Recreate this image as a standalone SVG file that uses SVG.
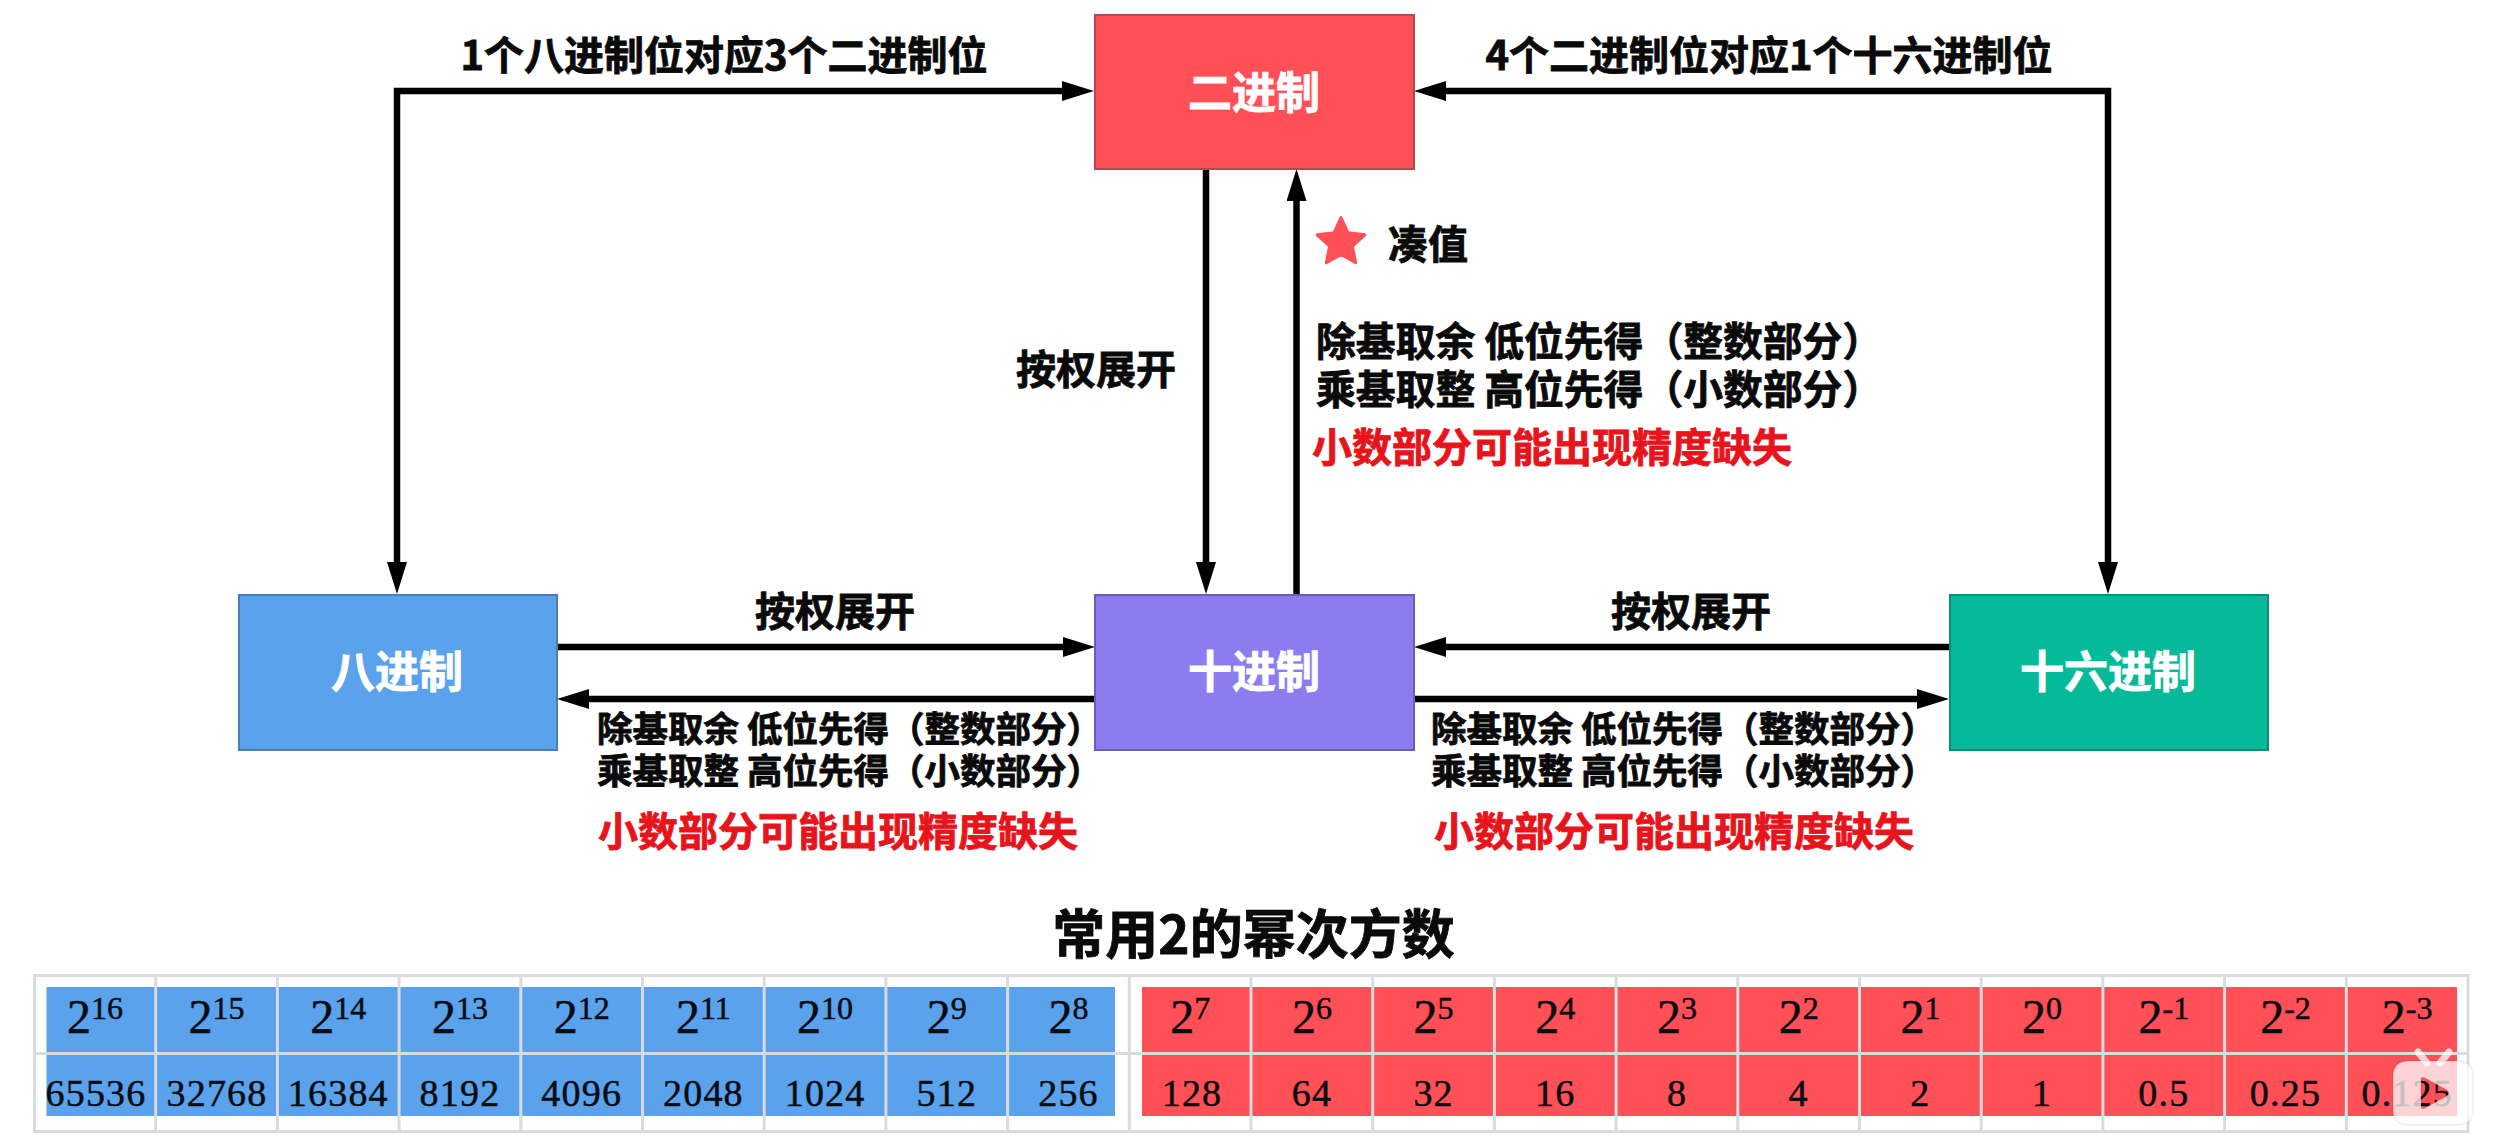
<svg xmlns="http://www.w3.org/2000/svg" width="2508" height="1135" viewBox="0 0 2508 1135">
<style>
text{font-family:"Noto Sans CJK SC","Liberation Sans",sans-serif;font-weight:700;fill:#0a0a0a;stroke:#0a0a0a;stroke-width:.8;text-anchor:middle;text-spacing-trim:space-all}
.node{stroke-width:2}
.nl{font-size:44px;fill:#fff;stroke:#fff}
.l40{font-size:40px}
.l38{font-size:39.800px;text-anchor:start}
.l34{font-size:35.500px;text-anchor:start}
.red{font-size:40px;fill:#e8141c;stroke:#e8141c}
.conn{fill:none;stroke:#000;stroke-width:6.500;marker-end:url(#ah)}
.both{marker-start:url(#ah)}
.t{font-family:"Liberation Serif",serif;font-weight:400;fill:#0b0b12;stroke:#0b0b12;stroke-width:.5}
.p{font-size:48px}
.p tspan{font-size:32px}
.v{font-size:38px;letter-spacing:1.200px}
.grid{stroke:#d8dbe0;stroke-width:3;fill:none}
</style>
<defs>
<marker id="ah" markerUnits="userSpaceOnUse" markerWidth="32" markerHeight="20" viewBox="0 0 32 20" refX="4" refY="10" orient="auto-start-reverse"><path d="M0,0L32,10L0,20Z" fill="#000"/></marker>
</defs>
<rect width="2508" height="1135" fill="#fff"/>
<g id="connectors">
<path class="conn both" d="M1066,91H397V566"/>
<path class="conn both" d="M1442,91H2108V566"/>
<path class="conn" d="M1206,169V566"/>
<path class="conn" d="M1296.500,594V197"/>
<path class="conn" d="M557,647H1067"/>
<path class="conn" d="M1095,699H585"/>
<path class="conn" d="M1414,699H1921"/>
<path class="conn" d="M1949,647H1442"/>
</g>
<g id="node-binary"><rect class="node" x="1095" y="15" width="319" height="154" fill="#ff4f57" stroke="#b4474f"/><text class="nl" x="1254" y="109">二进制</text></g>
<g id="node-octal"><rect class="node" x="239" y="595" width="318" height="155" fill="#5aa2eb" stroke="#4a7db5"/><text class="nl" x="397" y="688">八进制</text></g>
<g id="node-decimal"><rect class="node" x="1095" y="595" width="319" height="155" fill="#8c7cf0" stroke="#6a5cbd"/><text class="nl" x="1254" y="688">十进制</text></g>
<g id="node-hex"><rect class="node" x="1950" y="595" width="318" height="155" fill="#05b999" stroke="#0b8f78"/><text class="nl" x="2108" y="688">十六进制</text></g>
<g id="labels">
<text class="l40" x="724" y="70">1个八进制位对应3个二进制位</text>
<text class="l40" x="1769" y="70">4个二进制位对应1个十六进制位</text>
<polygon points="1341,217.500 1348,232.800 1364.800,234.800 1352.400,246.200 1355.700,262.700 1341,254.500 1326.300,262.700 1329.600,246.200 1317.200,234.800 1334,232.800" fill="#ff4f57" stroke="#ff4f57" stroke-width="3" stroke-linejoin="round"/>
<text class="l40" x="1428" y="259">凑值</text>
<text class="l40" x="1096" y="384">按权展开</text>
<text class="l38"><tspan x="1316" y="356">除基取余 低位先得（整数部分）</tspan><tspan x="1316" y="404">乘基取整 高位先得（小数部分）</tspan></text>
<text class="red" x="1552" y="462">小数部分可能出现精度缺失</text>
<text class="l40" x="835" y="626">按权展开</text>
<text class="l34"><tspan x="597" y="742">除基取余 低位先得（整数部分）</tspan><tspan x="597" y="784">乘基取整 高位先得（小数部分）</tspan></text>
<text class="red" x="838" y="846">小数部分可能出现精度缺失</text>
<text class="l40" x="1691" y="626">按权展开</text>
<text class="l34"><tspan x="1431" y="742">除基取余 低位先得（整数部分）</tspan><tspan x="1431" y="784">乘基取整 高位先得（小数部分）</tspan></text>
<text class="red" x="1674" y="846">小数部分可能出现精度缺失</text>
<text x="1253.500" y="954" font-size="53">常用2的幂次方数</text>
</g>
<g id="table">
<rect x="46.500" y="987" width="1068.500" height="129" fill="#5aa2eb"/>
<rect x="1142" y="987" width="1315" height="129" fill="#ff4f57"/>
<path class="grid" d="M34.500,975.500H2468V1131.500H34.500ZM34.500,1053.500H2468M155.700,975.500V1131.500M277.400,975.500V1131.500M399.100,975.500V1131.500M520.800,975.500V1131.500M642.500,975.500V1131.500M764.200,975.500V1131.500M885.900,975.500V1131.500M1007.600,975.500V1131.500M1129.300,975.500V1131.500M1251,975.500V1131.500M1372.700,975.500V1131.500M1494.400,975.500V1131.500M1616.100,975.500V1131.500M1737.800,975.500V1131.500M1859.500,975.500V1131.500M1981.200,975.500V1131.500M2102.900,975.500V1131.500M2224.600,975.500V1131.500M2346.300,975.500V1131.500"/>
<g>
<text class="t p" x="94.900" y="1033">2<tspan dy="-14">16</tspan></text>
<text class="t p" x="216.600" y="1033">2<tspan dy="-14">15</tspan></text>
<text class="t p" x="338.300" y="1033">2<tspan dy="-14">14</tspan></text>
<text class="t p" x="460" y="1033">2<tspan dy="-14">13</tspan></text>
<text class="t p" x="581.700" y="1033">2<tspan dy="-14">12</tspan></text>
<text class="t p" x="703.400" y="1033">2<tspan dy="-14">11</tspan></text>
<text class="t p" x="825.100" y="1033">2<tspan dy="-14">10</tspan></text>
<text class="t p" x="946.800" y="1033">2<tspan dy="-14">9</tspan></text>
<text class="t p" x="1068.500" y="1033">2<tspan dy="-14">8</tspan></text>
<text class="t p" x="1190.200" y="1033">2<tspan dy="-14">7</tspan></text>
<text class="t p" x="1311.900" y="1033">2<tspan dy="-14">6</tspan></text>
<text class="t p" x="1433.600" y="1033">2<tspan dy="-14">5</tspan></text>
<text class="t p" x="1555.300" y="1033">2<tspan dy="-14">4</tspan></text>
<text class="t p" x="1677" y="1033">2<tspan dy="-14">3</tspan></text>
<text class="t p" x="1798.700" y="1033">2<tspan dy="-14">2</tspan></text>
<text class="t p" x="1920.400" y="1033">2<tspan dy="-14">1</tspan></text>
<text class="t p" x="2042.100" y="1033">2<tspan dy="-14">0</tspan></text>
<text class="t p" x="2163.800" y="1033">2<tspan dy="-14">-1</tspan></text>
<text class="t p" x="2285.500" y="1033">2<tspan dy="-14">-2</tspan></text>
<text class="t p" x="2407.200" y="1033">2<tspan dy="-14">-3</tspan></text>
<text class="t v" x="96" y="1106">65536</text>
<text class="t v" x="217" y="1106">32768</text>
<text class="t v" x="338.300" y="1106">16384</text>
<text class="t v" x="460" y="1106">8192</text>
<text class="t v" x="581.700" y="1106">4096</text>
<text class="t v" x="703.400" y="1106">2048</text>
<text class="t v" x="825.100" y="1106">1024</text>
<text class="t v" x="946.800" y="1106">512</text>
<text class="t v" x="1068.500" y="1106">256</text>
<text class="t v" x="1192" y="1106">128</text>
<text class="t v" x="1311.900" y="1106">64</text>
<text class="t v" x="1433.600" y="1106">32</text>
<text class="t v" x="1555.300" y="1106">16</text>
<text class="t v" x="1677" y="1106">8</text>
<text class="t v" x="1798.700" y="1106">4</text>
<text class="t v" x="1920.400" y="1106">2</text>
<text class="t v" x="2042.100" y="1106">1</text>
<text class="t v" x="2163.800" y="1106">0.5</text>
<text class="t v" x="2285.500" y="1106">0.25</text>
<text class="t v" x="2407.200" y="1106">0.125</text>
</g>
</g>
<g id="logo">
<path d="M2418,1052L2427,1063M2449,1052L2440,1063" stroke="#fff" stroke-opacity=".75" stroke-width="7" stroke-linecap="round"/>
<path fill="#fff" fill-opacity=".75" stroke="#000" stroke-opacity=".05" stroke-width="2" fill-rule="evenodd" d="M2409,1061H2457Q2473,1061 2473,1077V1109Q2473,1125 2457,1125H2409Q2393,1125 2393,1109V1077Q2393,1061 2409,1061ZM2421,1080L2421,1106Q2421,1110 2425,1108L2447,1096Q2450,1093 2447,1090L2425,1078Q2421,1076 2421,1080Z"/>
</g>
</svg>
